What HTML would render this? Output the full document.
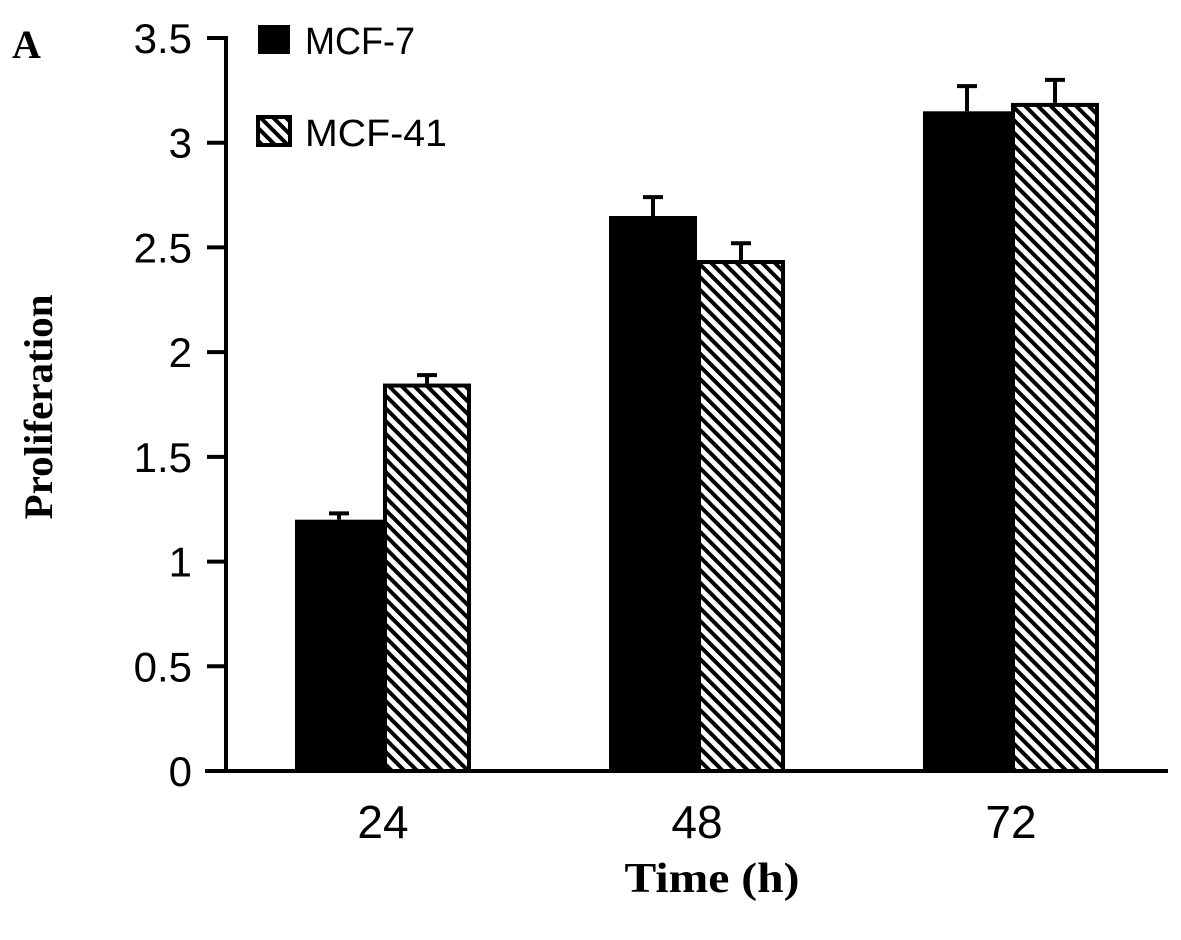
<!DOCTYPE html>
<html><head><meta charset="utf-8"><style>
html,body{margin:0;padding:0;background:#fff;}
svg{display:block;}
</style></head><body>
<svg id="chart" width="1181" height="940" viewBox="0 0 1181 940" xmlns="http://www.w3.org/2000/svg">
<defs>
<pattern id="hatch" patternUnits="userSpaceOnUse" width="9" height="9" patternTransform="rotate(-45)">
<rect width="9" height="9" fill="#fff"/>
<rect x="0" y="0" width="4" height="9" fill="#000"/>
</pattern>
</defs>
<text x="12" y="58" font-family="Liberation Serif, serif" font-weight="bold" font-size="40">A</text>
<g id="plot"></g>
<text transform="translate(52,407) rotate(-90)" text-anchor="middle" font-family="Liberation Serif, serif" font-weight="bold" font-size="40" textLength="225" lengthAdjust="spacingAndGlyphs">Proliferation</text>
<text x="712" y="892" text-anchor="middle" font-family="Liberation Serif, serif" font-weight="bold" font-size="42" textLength="175" lengthAdjust="spacingAndGlyphs">Time (h)</text>
<g>
<rect x="258" y="25" width="32" height="29" fill="#000"/>
<text x="305" y="54" font-family="Liberation Sans, sans-serif" font-size="38" textLength="110" lengthAdjust="spacingAndGlyphs">MCF-7</text>
<rect x="258" y="117" width="32" height="28" fill="url(#hatch)" stroke="#000" stroke-width="4"/>
<text x="305" y="146" font-family="Liberation Sans, sans-serif" font-size="38" textLength="142" lengthAdjust="spacingAndGlyphs">MCF-41</text>
</g>
</svg>
<script>
const categories = ["24","48","72"];
const mcf7 = [1.2, 2.65, 3.15];
const mcf41 = [1.85, 2.44, 3.19];
const mcf7Err = [0.03, 0.09, 0.12];
const mcf41Err = [0.04, 0.08, 0.11];
const yTicks = [0,0.5,1,1.5,2,2.5,3,3.5];
const yTickLabels = ["0","0.5","1","1.5","2","2.5","3","3.5"];

const NS="http://www.w3.org/2000/svg";
const g=document.getElementById('plot');
const x0=226,x1=1168,y0=771,yTop=38,yMax=3.5;
const band=(x1-x0)/categories.length;
const barW=88;
function y(v){return y0-(v/yMax)*(y0-yTop);}
function cx(i){return x0+band*(i+0.5);}
function mk(tag,attrs){const e=document.createElementNS(NS,tag);for(const k in attrs)e.setAttribute(k,attrs[k]);g.appendChild(e);return e;}

categories.forEach((c,i)=>{
  const b1=mk('rect',{x:cx(i)-barW,y:y(mcf7[i]),width:barW,height:y0-y(mcf7[i]),fill:'#000'});
  
  
  const b2=mk('rect',{x:cx(i)+2,y:y(mcf41[i])+2,width:barW-4,height:y0-y(mcf41[i])-2,fill:'url(#hatch)',stroke:'#000','stroke-width':4});
  
  
  [[cx(i)-barW/2,mcf7[i],mcf7Err[i],'mcf7'],[cx(i)+barW/2,mcf41[i],mcf41Err[i],'mcf41']].forEach(([ex,v,e,s])=>{
    const p=mk('path',{d:`M${ex},${y(v)} V${y(v+e)} M${ex-10},${y(v+e)} H${ex+10}`,stroke:'#000','stroke-width':4,fill:'none'});
    
    
  });
  const t=mk('text',{x:cx(i),y:838,'text-anchor':'middle','font-family':'Liberation Sans, sans-serif','font-size':46});
  t.textContent=c;
  
  
});
const ya=mk('line',{x1:x0,y1:yTop-2,x2:x0,y2:y0+2,stroke:'#000','stroke-width':4});


const xa=mk('line',{x1:x0-21,y1:y0,x2:x1,y2:y0,stroke:'#000','stroke-width':4});


yTicks.forEach((v,i)=>{
  const tk=mk('line',{x1:x0-19,y1:y(v),x2:x0,y2:y(v),stroke:'#000','stroke-width':4});
  
  
  const t=mk('text',{x:192,y:y(v)+15,'text-anchor':'end','font-family':'Liberation Sans, sans-serif','font-size':42});
  t.textContent=yTickLabels[i];
  
  
});
</script>
</body></html>
